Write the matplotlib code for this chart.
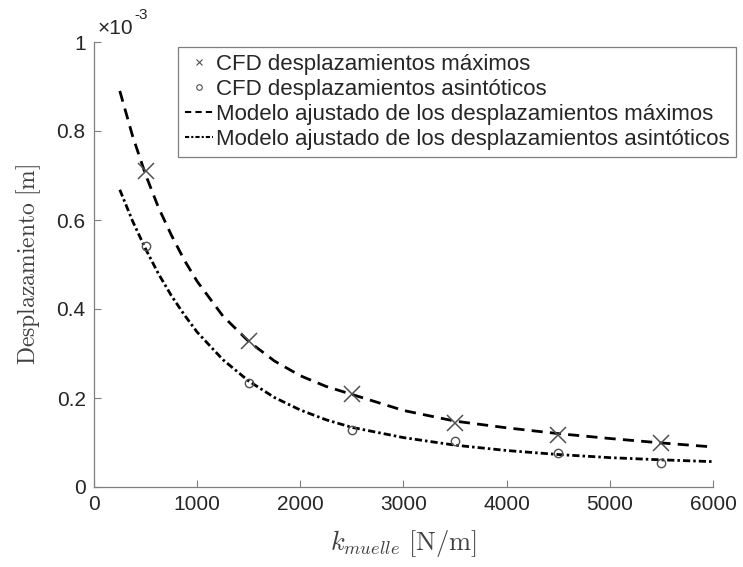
import numpy as np
import matplotlib
matplotlib.use("Agg")
import matplotlib.pyplot as plt
from matplotlib.lines import Line2D
from matplotlib.ticker import FuncFormatter

plt.rcParams['font.family'] = ['Liberation Sans', 'DejaVu Sans']
plt.rcParams['mathtext.fontset'] = 'cm'

# CFD results, spring stiffness [N/m] vs displacement [m]
k_cfd = [500, 1500, 2500, 3500, 4500, 5500]
d_max = [0.710e-3, 0.327e-3, 0.209e-3, 0.144e-3, 0.117e-3, 0.100e-3]
d_asin = [0.542e-3, 0.233e-3, 0.128e-3, 0.103e-3, 0.077e-3, 0.055e-3]

# fitted models, sampled along k
k_mod = [250, 375, 500, 625, 750, 875, 1000, 1250, 1500, 1750, 2000,
         2250, 2500, 3000, 3500, 4000, 4500, 5000, 5500, 6000]
mod_max = [0.890e-3, 0.788e-3, 0.702e-3, 0.628e-3, 0.566e-3, 0.510e-3,
           0.462e-3, 0.384e-3, 0.327e-3, 0.283e-3, 0.250e-3, 0.226e-3,
           0.208e-3, 0.172e-3, 0.148e-3, 0.133e-3, 0.120e-3, 0.109e-3,
           0.099e-3, 0.090e-3]
mod_asin = [0.668e-3, 0.597e-3, 0.535e-3, 0.479e-3, 0.430e-3, 0.387e-3,
            0.348e-3, 0.286e-3, 0.238e-3, 0.201e-3, 0.173e-3, 0.151e-3,
            0.134e-3, 0.111e-3, 0.094e-3, 0.082e-3, 0.073e-3, 0.066e-3,
            0.061e-3, 0.057e-3]

grey = '#7f7f7f'
txt = '#262626'

fig = plt.figure(figsize=(7.43, 5.67), dpi=100)
ax = fig.add_axes([94/743, 80/567, 619/743, 445/567])

ax.plot(k_mod, mod_max, color='k', lw=2.0, ls=(0, (4, 2.6)))
ax.plot(k_mod, mod_asin, color='k', lw=2.0, ls=(0, (2.6, 1.1, 0.9, 1.1)))
ax.plot(k_cfd, d_max, ls='none', marker='x', ms=11, mew=1.1, color='#505050')
ax.plot(k_cfd, d_asin, ls='none', marker='o', ms=6, mew=1.0,
        mfc='none', mec='#505050')

ax.set_xlim(0, 6000)
ax.set_ylim(0, 1e-3)
ax.set_xticks(np.arange(0, 6001, 1000))
ax.set_yticks(np.linspace(0, 1e-3, 6))
ax.yaxis.set_major_formatter(FuncFormatter(lambda v, p: f"{v*1e3:g}"))
ax.tick_params(direction='in', length=5, width=0.8, color=grey,
               labelsize=15, labelcolor=txt, pad=6)
for s in ['top', 'right']:
    ax.spines[s].set_visible(False)
for s in ['left', 'bottom']:
    ax.spines[s].set_color(grey)
    ax.spines[s].set_linewidth(0.9)

ax.text(0.005, 1.01, '×10', transform=ax.transAxes, fontsize=15,
        color=txt, ha='left', va='bottom')
ax.text(0.066, 1.045, '-3', transform=ax.transAxes, fontsize=11,
        color=txt, ha='left', va='bottom')

ax.set_xlabel(r'$k_{muelle}\ \mathrm{[N/m]}$', fontsize=19, color='#404040',
              labelpad=10)
ax.set_ylabel(r'$\mathrm{Desplazamiento\ [m]}$', fontsize=17, color='#404040',
              labelpad=10)

handles = [
    Line2D([], [], ls='none', marker='x', ms=4, mew=0.8, color='#505050'),
    Line2D([], [], ls='none', marker='o', ms=4, mew=0.8, mfc='none', mec='#505050'),
    Line2D([], [], color='k', lw=1.5, ls=(0, (3, 2))),
    Line2D([], [], color='k', lw=1.5, ls=(0, (2, 1, 1, 1))),
]
labels = ['CFD desplazamientos máximos',
          'CFD desplazamientos asintóticos',
          'Modelo ajustado de los desplazamientos máximos',
          'Modelo ajustado de los desplazamientos asintóticos']
leg = ax.legend(handles, labels, loc='upper right', bbox_to_anchor=(1.037, 0.988),
                fontsize=16, frameon=True, fancybox=False, framealpha=1,
                edgecolor=grey, handlelength=1.3, handletextpad=0.1,
                labelspacing=0.18, borderpad=0.3, borderaxespad=0)
leg.get_frame().set_linewidth(0.9)
for t in leg.get_texts():
    t.set_color(txt)

fig.savefig('out.png', dpi=100)
